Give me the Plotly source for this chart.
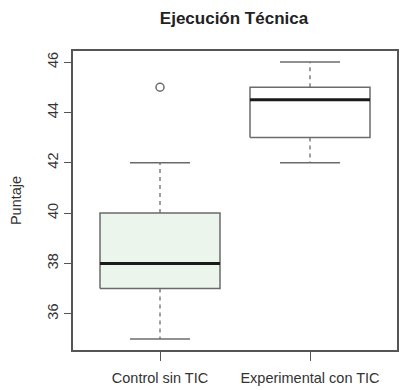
import plotly.graph_objects as go

categories = ["Control sin TIC", "Experimental con TIC"]
positions = [1, 2]
lower_whisker = [35, 42]
q1 = [37, 43]
median = [38, 44.5]
q3 = [40, 45]
upper_whisker = [42, 46]
outlier_x = [1]
outlier_y = [45]
fills = ["#EBF5EB", "#FFFFFF"]
y_ticks = [36, 38, 40, 42, 44, 46]

HALF = 0.4
CAP = 0.2
GRAY = "#6b6b6b"

# The page body adds an 8px offset, so the figure is 8px smaller than the window.
W, H = 409, 382

fig = go.Figure()
for i, p in enumerate(positions):
    fig.add_trace(go.Scatter(
        x=[p - HALF, p + HALF, p + HALF, p - HALF, p - HALF],
        y=[q1[i], q1[i], q3[i], q3[i], q1[i]],
        mode="lines", fill="toself", fillcolor=fills[i],
        line=dict(color=GRAY, width=1.5), hoverinfo="skip", showlegend=False))
    fig.add_trace(go.Scatter(
        x=[p, p, None, p, p],
        y=[q3[i], upper_whisker[i], None, q1[i], lower_whisker[i]],
        mode="lines", line=dict(color=GRAY, width=1.3, dash="4px,4px"),
        hoverinfo="skip", showlegend=False))
    fig.add_trace(go.Scatter(
        x=[p - CAP, p + CAP, None, p - CAP, p + CAP],
        y=[upper_whisker[i], upper_whisker[i], None, lower_whisker[i], lower_whisker[i]],
        mode="lines", line=dict(color=GRAY, width=1.5),
        hoverinfo="skip", showlegend=False))
    fig.add_trace(go.Scatter(
        x=[p - HALF, p + HALF], y=[median[i], median[i]],
        mode="lines", line=dict(color="#1a1a1a", width=3),
        hoverinfo="skip", showlegend=False))

fig.add_trace(go.Scatter(
    x=outlier_x, y=outlier_y, mode="markers",
    marker=dict(symbol="circle-open", size=8, color=GRAY, line=dict(width=1.5)),
    showlegend=False))

fig.update_layout(
    width=W, height=H,
    margin=dict(l=65, r=20, t=43, b=40, autoexpand=False),
    paper_bgcolor="white", plot_bgcolor="white",
    font=dict(family="Liberation Sans, Arial, sans-serif", size=14.5, color="#333333"),
    title=dict(text="<b>Ejecución Técnica</b>", x=226 / W, xanchor="center",
               y=1 - 4 / H, yanchor="top",
               font=dict(size=17, color="#222222")),
    xaxis=dict(range=[0.42, 2.58], tickvals=positions, ticktext=categories,
               automargin=False, ticklabelstandoff=5,
               showgrid=False, zeroline=False, showline=True, mirror=True,
               linecolor="#555555", linewidth=1.5,
               ticks="outside", ticklen=9, tickcolor="#555555", tickwidth=1.3),
    yaxis=dict(range=[34.56, 46.44], tickvals=y_ticks, tickangle=-90,
               automargin=False,
               showgrid=False, zeroline=False, showline=True, mirror=True,
               linecolor="#555555", linewidth=1.5,
               ticks="outside", ticklen=7, tickcolor="#555555", tickwidth=1.3,
               title=dict(text="Puntaje", standoff=23, font=dict(size=14.5))),
)

fig.write_html("out.html")
